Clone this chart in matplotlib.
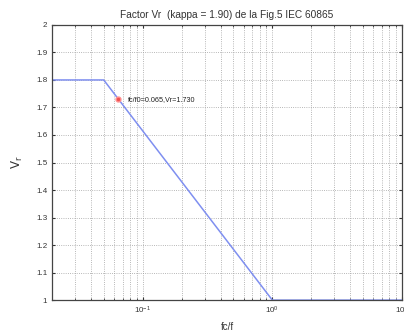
import matplotlib
matplotlib.use('Agg')
import matplotlib.pyplot as plt
import matplotlib.ticker as ticker
import numpy as np

# curve Vr vs fc/f (kappa = 1.90)
fc_f = [0.02, 0.05, 1.0, 10.0]
vr = [1.8, 1.8, 1.0, 1.0]
# marked point
pt_x = 0.065
pt_y = 1.730
pt_label = 'fc/f0=0.065,Vr=1.730'

plt.rcParams['font.family'] = ['Liberation Sans', 'DejaVu Sans']

fig = plt.figure(figsize=(4.04, 3.32), dpi=100)
ax = fig.add_axes([0.129, 0.096, 0.866, 0.829])

ax.plot(fc_f, vr, color='#7f8ff0', lw=1.1)
ax.plot([pt_x], [pt_y], marker='o', ms=3.5, color='#f05050', mec='#ff9090', ls='none')
ax.text(pt_x * 1.18, pt_y, pt_label, fontsize=5.2, color='#222222', va='center')

ax.set_xscale('log')
ax.set_xlim(0.02, 10)
ax.set_ylim(1, 2)
ax.set_yticks(np.arange(1, 2.01, 0.1))
ax.set_yticklabels(['1', '1.1', '1.2', '1.3', '1.4', '1.5', '1.6', '1.7', '1.8', '1.9', '2'])
ax.xaxis.set_major_locator(ticker.LogLocator(base=10, numticks=10))
ax.xaxis.set_minor_locator(ticker.LogLocator(base=10, subs=np.arange(2, 10), numticks=20))
ax.xaxis.set_minor_formatter(ticker.NullFormatter())

ax.grid(True, which='major', ls=':', color='#a0a0a0', lw=0.6)
ax.grid(True, which='minor', axis='x', ls=':', color='#a0a0a0', lw=0.6)
ax.tick_params(which='both', direction='in', top=True, right=True,
               labelsize=5.8, colors='#333333', length=2.5)
ax.tick_params(which='minor', length=1.5)
for s in ax.spines.values():
    s.set_color('#444444')
    s.set_linewidth(0.9)

ax.set_title('Factor Vr  (kappa = 1.90) de la Fig.5 IEC 60865', fontsize=7.3,
             color='#333333', pad=5)
ax.set_xlabel('fc/f', fontsize=7, color='#333333', labelpad=4)
ax.set_ylabel(r'$\mathrm{V_r}$', fontsize=8.5, color='#333333', labelpad=8)

fig.savefig('out.png', dpi=100, facecolor='white')
